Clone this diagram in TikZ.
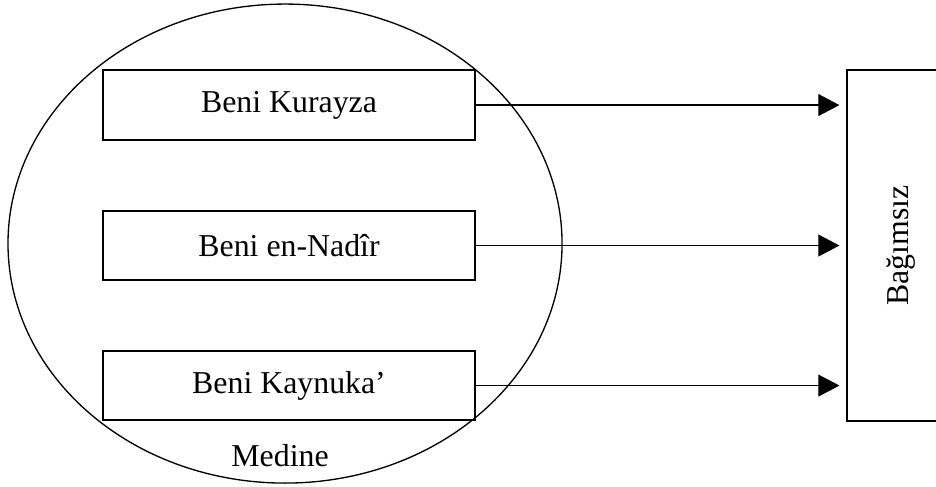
\documentclass[tikz,border=0pt]{standalone}
\usepackage{fontspec}
\setmainfont{Liberation Serif}
\usetikzlibrary{arrows.meta,positioning}
\tikzset{>={Triangle[length=0.28cm,width=0.29cm]}}
\tikzset{tribe/.style={draw, line width=0.65pt, minimum width=4.93cm, minimum height=0.92cm, inner sep=0pt}}

\begin{document}
\begin{tikzpicture}[font=\fontsize{12pt}{14pt}\selectfont]
\clip (0,0) rectangle (12.40,6.44);
\draw[line width=0.5pt] (3.776,3.213) ellipse (3.670 and 3.173);
\node[tribe] (kur) at (3.829,5.048) {Beni Kurayza};
\node[tribe] (nad) at (3.829,3.187) {Beni en-Nadîr};
\node[tribe] (kay) at (3.829,1.332) {Beni Kaynuka’};
\node (med) at (3.71,0.41) {Medine};
\node[draw, line width=0.65pt, minimum width=1.431cm, minimum height=4.651cm, inner sep=0pt] (bag) at (11.938,3.187) {\rotatebox{90}{Bağımsız}};
\foreach \t in {kur, nad, kay}{
\draw[line width=0.45pt, ->, shorten >=0.09cm] (\t.east) -- (\t.east -| bag.west);
}
\end{tikzpicture}
\end{document}
